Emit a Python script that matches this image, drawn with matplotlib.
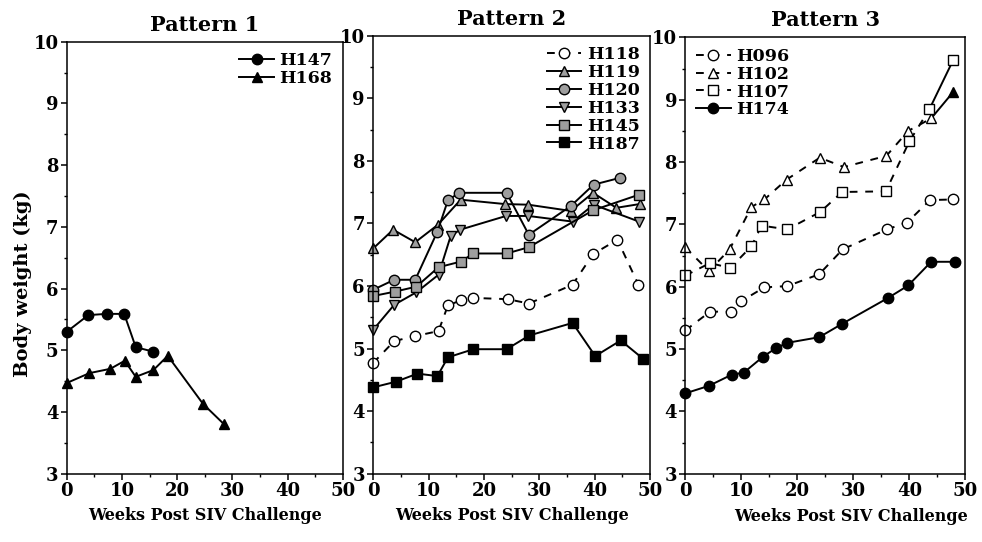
import matplotlib
matplotlib.use("Agg")
import matplotlib.pyplot as plt
import numpy as np

plt.rcParams['font.family'] = ['DejaVu Serif']
plt.rcParams['font.weight'] = 'bold'

# Pattern 1
h147_x = [0, 3.9, 7.2, 10.4, 12.5, 15.6]
h147_y = [5.30, 5.57, 5.59, 5.59, 5.05, 4.98]
h168_x = [0, 4.1, 7.9, 10.5, 12.5, 15.7, 18.3, 24.7, 28.4]
h168_y = [4.47, 4.63, 4.70, 4.83, 4.57, 4.68, 4.91, 4.13, 3.81]

# Pattern 2
h118_x = [0, 3.8, 7.6, 11.8, 13.5, 15.8, 18.0, 24.3, 28.1, 36.0, 39.7, 44.1, 47.9]
h118_y = [4.77, 5.12, 5.20, 5.28, 5.69, 5.77, 5.81, 5.79, 5.72, 6.02, 6.51, 6.74, 6.02]
h119_x = [0, 3.6, 7.6, 11.7, 15.8, 23.8, 28.0, 35.7, 39.7, 43.9, 48.1]
h119_y = [6.60, 6.90, 6.70, 6.98, 7.38, 7.31, 7.30, 7.20, 7.49, 7.25, 7.31]
h120_x = [0, 3.8, 7.6, 11.6, 13.5, 15.5, 24.1, 28.1, 35.7, 39.8, 44.6]
h120_y = [5.94, 6.10, 6.10, 6.87, 7.37, 7.49, 7.49, 6.82, 7.28, 7.62, 7.73]
h133_x = [0, 3.8, 7.8, 11.8, 14.0, 15.7, 24.0, 28.0, 36.0, 39.8, 48.0]
h133_y = [5.30, 5.70, 5.90, 6.18, 6.80, 6.90, 7.12, 7.12, 7.03, 7.30, 7.03]
h145_x = [0, 3.9, 7.8, 11.8, 15.8, 18.1, 24.1, 28.1, 39.7, 48.0]
h145_y = [5.84, 5.91, 5.99, 6.30, 6.39, 6.52, 6.52, 6.62, 7.21, 7.46]
h187_x = [0, 4.1, 8.0, 11.6, 13.5, 18.1, 24.1, 28.2, 36.0, 40.1, 44.7, 48.7]
h187_y = [4.38, 4.47, 4.60, 4.56, 4.86, 4.99, 4.99, 5.21, 5.41, 4.88, 5.13, 4.84]

# Pattern 3
h096_x = [0, 4.4, 8.1, 10.0, 14.1, 18.2, 23.9, 28.1, 36.0, 39.6, 43.7, 47.8]
h096_y = [5.30, 5.60, 5.60, 5.77, 5.99, 6.01, 6.20, 6.60, 6.92, 7.03, 7.39, 7.40]
h102_x = [0, 4.2, 7.9, 11.8, 14.1, 18.1, 24.0, 28.3, 35.9, 39.8, 43.9, 47.8]
h102_y = [6.63, 6.25, 6.60, 7.28, 7.40, 7.72, 8.07, 7.92, 8.10, 8.50, 8.70, 9.12]
h107_x = [0, 4.4, 8.0, 11.8, 13.6, 18.2, 24.1, 28.0, 35.8, 40.0, 43.6, 47.8]
h107_y = [6.18, 6.38, 6.30, 6.65, 6.98, 6.92, 7.20, 7.52, 7.53, 8.33, 8.85, 9.63]
h174_x = [0, 4.2, 8.3, 10.4, 13.9, 16.1, 18.2, 23.9, 27.9, 36.2, 39.8, 43.9, 48.2]
h174_y = [4.29, 4.41, 4.59, 4.62, 4.88, 5.01, 5.10, 5.19, 5.40, 5.82, 6.02, 6.40, 6.40]

fig = plt.figure(figsize=(9.82, 5.42), dpi=100)
ax1 = fig.add_axes([0.068, 0.126, 0.281, 0.797])
ax2 = fig.add_axes([0.380, 0.126, 0.282, 0.808])
ax3 = fig.add_axes([0.698, 0.126, 0.285, 0.805])

pat = '0.62'
dash = (0, (4, 4))
kw = dict(color='black', lw=1.4, ms=7.5, mec='black', mew=1.0, clip_on=False)

# panel 1
ax1.plot(h147_x, h147_y, marker='o', mfc='black', label='H147', **kw)
ax1.plot(h168_x, h168_y, marker='^', mfc='black', label='H168', **kw)

# panel 2
ax2.plot(h118_x, h118_y, marker='o', mfc='white', ls=dash, label='H118', **kw)
ax2.plot(h119_x, h119_y, marker='^', mfc=pat, label='H119', **kw)
ax2.plot(h120_x, h120_y, marker='o', mfc=pat, label='H120', **kw)
ax2.plot(h133_x, h133_y, marker='v', mfc=pat, label='H133', **kw)
ax2.plot(h145_x, h145_y, marker='s', mfc=pat, label='H145', **kw)
ax2.plot(h187_x, h187_y, marker='s', mfc='black', label='H187', **kw)

# panel 3 (last segment of H102 / H107 drawn solid, as in the original)
ax3.plot(h096_x, h096_y, marker='o', mfc='white', ls=dash, label='H096', **kw)
ax3.plot(h102_x[:-1], h102_y[:-1], marker='^', mfc='white', ls=dash, label='H102', **kw)
ax3.plot(h102_x[-2:], h102_y[-2:], color='black', lw=1.4, zorder=1)
ax3.plot(h102_x[-1:], h102_y[-1:], marker='^', mfc='black', mec='black', ms=7.5, ls='none', clip_on=False)
ax3.plot(h107_x[:-1], h107_y[:-1], marker='s', mfc='white', ls=dash, label='H107', **kw)
ax3.plot(h107_x[-2:], h107_y[-2:], color='black', lw=1.4, zorder=1)
ax3.plot(h107_x[-1:], h107_y[-1:], marker='s', mfc='white', mec='black', ms=7.5, ls='none', clip_on=False)
ax3.plot(h174_x, h174_y, marker='o', mfc='black', label='H174', **kw)

titles = ['Pattern 1', 'Pattern 2', 'Pattern 3']
for ax, t in zip([ax1, ax2, ax3], titles):
    ax.set_xlim(0, 50)
    ax.set_ylim(3, 10)
    ax.set_xticks(np.arange(0, 51, 10))
    ax.set_xticks(np.arange(5, 50, 10), minor=True)
    ax.set_yticks(np.arange(3, 11, 1))
    ax.set_yticks(np.arange(3.5, 10, 1), minor=True)
    ax.tick_params(which='major', direction='out', length=4, width=1.1, labelsize=13, pad=2)
    ax.tick_params(which='minor', direction='out', length=2, width=1)
    for lab in ax.get_xticklabels() + ax.get_yticklabels():
        lab.set_fontweight('bold')
    for s in ax.spines.values():
        s.set_linewidth(1.1)
    ax.set_title(t, fontsize=15, fontweight='bold', pad=8)

xl = 'Weeks Post SIV Challenge'
ax1.set_xlabel(xl, fontsize=11.5, fontweight='bold', labelpad=5)
ax2.set_xlabel(xl, fontsize=11.5, fontweight='bold', labelpad=5)
ax3.set_xlabel(xl, fontsize=11.5, fontweight='bold')
ax3.xaxis.set_label_coords(0.59, -0.078)
ax1.set_ylabel('Body weight (kg)', fontsize=14, fontweight='bold')
ax1.yaxis.set_label_coords(-0.125, 0.44)

leg_kw = dict(frameon=False, handlelength=2.0, handletextpad=0.3, labelspacing=0.05,
              prop={'weight': 'bold', 'size': 12.5}, borderaxespad=0.2)
ax1.legend(loc='upper right', **leg_kw)
ax2.legend(loc='upper right', **leg_kw)
ax3.legend(loc='upper left', **leg_kw)

fig.savefig('out.png', dpi=100)
